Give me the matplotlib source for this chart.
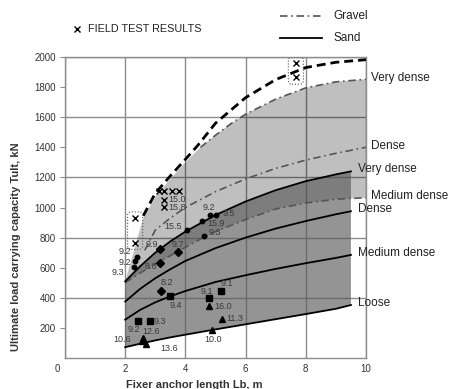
import matplotlib.pyplot as plt
import matplotlib.transforms as mtransforms
from matplotlib.lines import Line2D
from matplotlib.patches import FancyBboxPatch
import numpy as np

# set font
plt.rcParams['font.family'] = 'sans-serif'
plt.rcParams['font.sans-serif'] = ['Liberation Sans', 'DejaVu Sans']
plt.rcParams['text.color'] = '#222222'

# ---- curves (x = fixed anchor length m, y = Tult kN) ----
sand_x = [2.0, 2.5, 3.0, 3.5, 4.0, 5.0, 6.0, 7.0, 8.0, 9.0, 9.5]
sand_loose = [72, 95, 117, 137, 155, 190, 224, 258, 292, 327, 352]
sand_medium = [255, 320, 370, 410, 445, 505, 550, 592, 630, 665, 685]
sand_dense = [375, 460, 530, 590, 645, 730, 800, 860, 910, 955, 975]
sand_very_dense = [509, 610, 700, 775, 840, 950, 1040, 1115, 1175, 1220, 1240]

gravel_x = [2.0, 2.5, 3.0, 3.5, 4.0, 4.5, 5.0, 6.0, 7.0, 8.0, 9.0, 10.0]
gravel_medium = [500, 565, 625, 680, 735, 790, 840, 920, 990, 1030, 1055, 1065]
gravel_dense_x = [2.65, 3.0, 3.5, 4.0, 5.0, 6.0, 7.0, 8.0, 9.0, 10.0]
gravel_dense = [715, 850, 930, 1000, 1105, 1190, 1260, 1315, 1360, 1400]
gravel_very_dense_x = [2.0, 2.3, 2.6, 3.0, 3.5, 4.0, 4.5, 5.0, 5.5, 6.0, 7.0, 8.0, 9.0, 10.0]
gravel_very_dense = [510, 720, 930, 1070, 1190, 1300, 1400, 1480, 1555, 1620, 1720, 1795, 1835, 1852]

upper_x = [2.6, 3.0, 3.5, 4.0, 4.4, 5.0, 6.0, 7.0, 8.0, 9.0, 10.0]
upper_y = [945, 1095, 1210, 1320, 1410, 1560, 1730, 1850, 1930, 1965, 1982]

# ---- test points ----
field_x = [3.11, 3.28, 3.56, 3.78, 3.28, 3.28, 2.33, 2.33, 7.67, 7.67]
field_y = [1110, 1110, 1110, 1110, 1053, 1002, 931, 767, 1960, 1864]
field_labels = ['', '', '', '', '15.0', '15.8', '', '', '', '']

dot_x = [2.39, 2.33, 2.28, 4.06, 4.56, 4.83, 5.00, 4.61]
dot_y = [669, 642, 605, 853, 909, 953, 947, 809]
dot_labels = ['9.2', '9.2', '9.3', '15.5', '15.9', '9.2', '9.5', '9.3']

diamond_x = [3.17, 3.74, 3.17, 3.19]
diamond_y = [725, 702, 631, 447]
diamond_labels = ['9.9', '9.7', '8.6', '8.2']

square_x = [3.48, 4.78, 5.17, 2.41, 2.81]
square_y = [409, 398, 442, 249, 247]
square_labels = ['9.4', '9.1', '9.1', '9.2', '9.3']

triangle_x = [4.78, 5.22, 4.89, 2.58, 2.55, 2.69]
triangle_y = [347, 260, 187, 135, 110, 93]
triangle_labels = ['16.0', '11.3', '10.0', '12.6', '10.6', '13.6']

xticks = [0, 2, 4, 6, 8, 10]
yticks_major = [400, 800, 1200, 1600, 2000]
yticks_minor = [200, 600, 1000, 1400, 1800]


fig = plt.figure(figsize=(4.49, 3.89), dpi=100)
ax = fig.add_axes([65 / 449, 1 - 358 / 389, 301 / 449, 301 / 389])

# shaded bands (semi transparent, so the overlap gets darker)
ax.fill(gravel_very_dense_x + gravel_x[::-1], gravel_very_dense + gravel_medium[::-1],
        color='black', alpha=0.25, lw=0, zorder=1)
ax.fill(sand_x + sand_x[::-1], sand_very_dense + sand_loose[::-1],
        color='#585858', alpha=0.64, lw=0, zorder=1)

dashdot = (4.5, 2.2, 1, 2.2)
gcol = '#555555'
ax.plot(gravel_x, gravel_medium, color=gcol, lw=1.2, dashes=dashdot, zorder=2)
ax.plot(gravel_dense_x, gravel_dense, color=gcol, lw=1.2, dashes=dashdot, zorder=2)
gvx = np.array(gravel_very_dense_x)
gvy = np.array(gravel_very_dense)
ax.plot(gvx[gvx >= 4.5], gvy[gvx >= 4.5], color=gcol, lw=1.2, dashes=dashdot, zorder=2)

for ys in [sand_loose, sand_medium, sand_dense, sand_very_dense]:
    ax.plot(sand_x, ys, color='black', lw=1.3, zorder=2)

ax.plot(upper_x, upper_y, color='black', lw=2, dashes=(3.2, 1.8), zorder=3)

# markers
ax.plot(field_x, field_y, 'x', color='black', ms=4, mew=1, zorder=4)
ax.plot(dot_x, dot_y, 'o', color='black', ms=3.2, zorder=4)
ax.plot(diamond_x, diamond_y, 'D', color='black', ms=4, zorder=4)
ax.plot(square_x, square_y, 's', color='black', ms=4, zorder=4)
ax.plot(triangle_x, triangle_y, '^', color='black', ms=4, zorder=4)

# point labels: (dx, dy in points, ha)
field_off = [None] * 4 + [(3.6, 0, 'left'), (3.6, 0, 'left')] + [None] * 4
dot_off = [(-4, 4.2, 'right'), (-3, -0.6, 'right'), (-7, -4.2, 'right'), (-3.6, 1.9, 'right'),
           (3.6, -1.7, 'left'), (-1.4, 5, 'center'), (5, 1.4, 'left'), (3.4, 2.7, 'left')]
diamond_off = [(-2, 3.1, 'right'), (0, 5.5, 'center'), (-2.4, -2.4, 'right'), (4.5, 5.8, 'center')]
square_off = [(4.1, -6.5, 'center'), (-1.5, 4.8, 'center'), (4.8, 6, 'center'),
              (-2.9, -6.2, 'center'), (2.6, -0.5, 'left')]
triangle_off = [(3.6, -0.5, 'left'), (3.1, 0, 'left'), (0.6, -6.7, 'center'),
                (6.1, 4.8, 'center'), (-7.6, 1.2, 'right'), (10.3, -3.1, 'left')]

groups = [(field_x, field_y, field_labels, field_off),
          (dot_x, dot_y, dot_labels, dot_off),
          (diamond_x, diamond_y, diamond_labels, diamond_off),
          (square_x, square_y, square_labels, square_off),
          (triangle_x, triangle_y, triangle_labels, triangle_off)]
for xs, ys, labs, offs in groups:
    for x, y, lab, off in zip(xs, ys, labs, offs):
        if not lab:
            continue
        ax.annotate(lab, (x, y), xytext=(off[0], off[1]), textcoords='offset points',
                    ha=off[2], va='center', fontsize=6.5, color='#3a3a3a', zorder=5)

# dotted boxes round the two field-test pairs
for i0, i1 in [(6, 8), (8, 10)]:
    bx = field_x[i0:i1]
    by = field_y[i0:i1]
    box = FancyBboxPatch((min(bx) - 0.25, min(by) - 45), max(bx) - min(bx) + 0.5,
                         max(by) - min(by) + 85,
                         boxstyle='round,pad=0,rounding_size=0.12', mutation_aspect=200,
                         fill=False, ec='#555555', lw=0.8, ls=':', zorder=4)
    ax.add_patch(box)

# curve labels on the right
lab_kw = dict(fontsize=8.5, va='center', color='#222222', clip_on=False)
for ys, name in [(sand_very_dense, 'Very dense'), (sand_dense, 'Dense'),
                 (sand_medium, 'Medium dense'), (sand_loose, 'Loose')]:
    ax.text(sand_x[-1] + 0.22, ys[-1] + 15, name, **lab_kw)
for ys, name in [(gravel_very_dense, 'Very dense'), (gravel_dense, 'Dense'),
                 (gravel_medium, 'Medium dense')]:
    ax.text(10.17, ys[-1] + 10, name, **lab_kw)

# axes
ax.set_xlim(0, 10)
ax.set_ylim(0, 2000)
ax.set_xticks(xticks)
ax.set_yticks(yticks_major)
ax.set_yticks(yticks_minor, minor=True)
ax.set_yticklabels([str(v) for v in yticks_minor], minor=True)
ax.set_axisbelow(True)
ax.grid(True, which='major', color='#8c8c8c', lw=1.0)
for s in ax.spines.values():
    s.set_color('#8c8c8c')
    s.set_linewidth(1.0)
ax.tick_params(axis='x', length=0, pad=4.5, labelsize=7, labelcolor='#333333')
ax.tick_params(axis='y', which='both', length=3.5, width=0.8, color='#8c8c8c',
               pad=3, labelsize=7, labelcolor='#333333')

# the "0" label sits a little left of its tick in the original
zero_lab = ax.get_xticklabels()[0]
zero_lab.set_transform(zero_lab.get_transform()
                       + mtransforms.ScaledTranslation(-8 / 100, 0, fig.dpi_scale_trans))

ax.set_xlabel('Fixer anchor length Lb, m', fontsize=8, fontweight='bold', color='#333333')
ax.set_ylabel('Ultimate load carrying capacity Tult, kN', fontsize=8,
              fontweight='bold', color='#333333')
ax.xaxis.set_label_coords(0.43, -0.072)
ax.yaxis.set_label_coords(-0.146, 0.37)

# legend above the axes
fig.add_artist(Line2D([0.624, 0.719], [0.959, 0.959], color=gcol, lw=1.2, dashes=dashdot))
fig.add_artist(Line2D([0.624, 0.717], [0.902, 0.902], color='black', lw=1.3))
fig.text(0.742, 0.959, 'Gravel', fontsize=8.5, va='center')
fig.text(0.742, 0.902, 'Sand', fontsize=8.5, va='center')
fig.add_artist(Line2D([0.171], [0.925], marker='x', ms=4, mew=1, color='black', ls='none'))
fig.text(0.196, 0.925, 'FIELD TEST RESULTS', fontsize=7.8, va='center')

fig.savefig('out.png', dpi=100)
